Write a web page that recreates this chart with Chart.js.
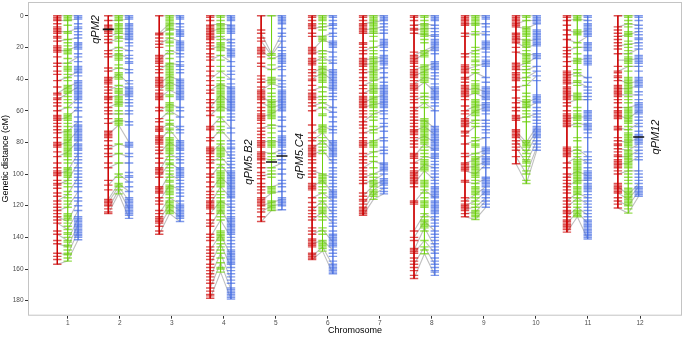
<!DOCTYPE html>
<html>
<head>
<meta charset="utf-8">
<script src="https://cdn.jsdelivr.net/npm/chart.js@4.4.1/dist/chart.umd.min.js"></script>
<style>
  html, body { margin: 0; padding: 0; background: #fff; }
</style>
</head>
<body>
<canvas id="mapChart" width="685" height="337"></canvas>
<script>
// chromosomes and y ticks
const chromosomes = ["1", "2", "3", "4", "5", "6", "7", "8", "9", "10", "11", "12"];
const distanceTicks = [0, 20, 40, 60, 80, 100, 120, 140, 160, 180];

// marker positions (cM) per chromosome, red map
const mapA = [
  [0,1,2,3,5,7,8,9,10,11,13,14,16,19,20,21,22,23,26,30,32,35,37,41,45,49,50,52,53,55,57,60,63,64,65,66,68,70,72,74,77,80,81,82,83,86,89,93,96,98,99,100,101,104,106,107,109,112,114,117,119,121,123,125,127,129,131,136,138,142,144,150,152,154,157],
  [0,3,6,7,8,9,10,11,13,15,17,22,24,26,33,35,39,40,41,42,43,45,47,49,51,52,53,55,58,60,62,65,68,73,74,75,76,77,79,82,84,87,89,93,96,104,107,110,116,117,118,119,120,122,124,125],
  [0,11,12,14,16,18,20,25,26,27,28,29,30,32,34,36,39,40,41,42,43,44,45,47,49,50,51,52,53,58,60,65,67,70,71,72,73,76,77,78,79,80,81,83,85,87,90,93,96,97,98,99,100,102,108,109,110,111,112,115,117,119,123,125,127,128,129,130,131,133,136,138],
  [0,1,3,6,7,8,9,10,11,12,13,14,15,17,19,21,24,26,28,32,35,38,41,44,47,49,53,55,58,60,63,70,71,72,77,79,83,84,85,86,87,89,91,93,96,100,102,105,108,111,113,115,117,118,119,120,121,122,125,129,131,133,138,140,142,146,148,150,152,154,157,159,161,163,165,167,169,172,174,176,177,178.5],
  [0,9,11,14,16,20,21,22,23,24,26,30,32,38,40,42,45,47,48,49,50,51,52,53,55,58,60,62,63,64,65,66,68,71,73,75,77,79,80,81,82,83,86,87,88,89,90,91,93,96,99,101,103,106,108,110,112,115,116,117,118,119,120,122,124,127,130],
  [0,1,3,5,6,7,8,11,13,20,21,22,23,24,27,28,29,30,31,34,36,38,40,41,44,47,49,50,51,52,53,55,57,60,69,74,77,79,82,83,84,85,86,87,88,89,91,93,96,98,100,102,106,107,108,109,110,115,118,121,123,125,127,129,134,136,138,141,142,143,144,145,146,150,151,152,153,154],
  [0,1,3,5,6,7,8,9,10,11,17,18,20,22,24,27,28,29,30,31,32,34,36,39,41,44,46,49,51,52,53,54,55,56,57,58,60,62,64,67,69,71,74,77,79,80,81,82,83,87,89,91,93,96,98,100,102,104,106,112,114,116,117,119,121,122,123,124,125,126],
  [0,1,3,6,8,9,11,23,25,26,27,28,29,30,32,34,35,36,37,38,39,41,43,44,45,46,47,49,51,53,55,58,60,62,64,66,68,70,72,73,74,75,77,79,81,83,87,88,89,90,93,96,98,99,100,101,102,103,104,105,106,108,117,118,119,136,140,142,147,148,149,150,153,155,157,159,161,164,166],
  [0,1,2,3,4,5,6,11,13,24,26,31,32,33,34,35,36,39,40,42,44,45,46,47,48,49,50,51,53,57,60,62,65,66,67,68,69,70,73,74,76,81,87,89,93,94,95,96,97,98,104,105,115,117,119,120,121,122,123,125,127],
  [0,1,2,3,4,5,6,7,11,12,13,14,15,16,17,20,23,30,31,32,33,34,36,37,38,39,40,41,45,47,52,55,58,60,63,64,65,66,72,73,74,75,76,77,79,81,83,85,89,93.5],
  [0,1,3,6,9,12,15,20,22,24,26,29,32,35,36,37,38,39,40,41,42,43,45,46,47,48,49,50,51,52,53,55,57,60,62,63,64,65,66,67,68,69,70,83,84,85,86,87,88,89,93,96,100,102,104,106,108,110,112,115,117,119,121,123,124,125,127,129,130,131,132,133,134,135,136.7],
  [0,7,9,11,13,15,17,19,21,24,32,35,36,38,39,41,44,45,46,47,48,49,50,51,53,55,58,60,61,62,63,64,65,70,71,72,77,79,81,82,84,86,88,89,91,92,93,94,95,96,98,100,106,107,108,109,110,111,112,115,117,119,121.5]
];

// green map
const mapB = [
  [0,1,2,3,6,10,11,15,17,19,21,22,23,24,27,30,32,33,34,35,37,39,41,44,45,46,47,48,49,51,53,55,58,62,63,64,65,66,68,70,72,73,74,75,76,77,78,79,80,81,82,83,84,85,86,87,88,89,91,93,96,97,98,99,100,101,102,104,106,108,111,113,115,117,119,121,125,126,127,128,129,131,133,135,137,138,140,142,143,145,146,148,150,151,153,155],
  [0,1,2,3,5,6,7,8,9,10,11,13,14,16,20,22,24,25,26,27,28,31,33,36,37,38,39,40,44,46,47,48,49,51,52,53,54,55,56,57,60,62,65,66,67,68,69,81,87,93,100,102,106,107,108,110,112.5],
  [0,1,2,3,4,5,6,7,8,9,11,12,14,16,17,19,22,24,27,30,31,32,33,34,35,36,37,38,39,40,41,42,43,44,45,46,47,50,51,55,56,57,58,59,60,62,66,68,69,71,72,74,77,78,79,80,81,82,83,84,85,86,87,89,91,93,94,96,98,100,102,104,105,107,108,109,110,111,112,113,115,117,118,119,120,121,122,123,124,125],
  [0,1,3,5,6,7,8,9,10,11,13,15,17,18,19,20,21,22,25,28,32,35,39,41,43,44,45,46,47,48,49,50,51,52,53,54,55,56,57,58,59,60,64,67,70,72,74,79,81,83,84,85,86,87,88,89,91,94,96,98,99,100,101,102,103,104,105,106,107,108,111,113,115,117,118,119,120,121,122,123,124,125,127,129,136,137,138,139,140,141,142,144,146,148,150,153,156,159,160,162],
  [0,24,25,27,31,34,39,40,41,42,43,46,49,51,53,54,55,56,57,58,59,60,61,62,63,64,65,69,71,74,77,79,80,81,82,83,87,89,91,96,98,100,102,108,109,110,111,112,117,118,119,120,121,122,123],
  [0,1,2,3,5,7,9,13,14,15,16,22,24,26,28,30,32,33,34,35,36,37,38,39,40,41,42,45,48,51,53,55,58,62,63,69,70,71,72,73,74,77,79,81,83,85,87,100,101,102,103,104,105,106,108,110,112,115,117,119,121,122,123,124,125,127,129,134,136,138,142,143,144,145,146,147,148.7],
  [0,1,2,3,4,5,6,7,8,9,10,11,13,16,20,22,24,26,27,28,29,30,31,32,33,34,35,36,37,38,39,40,41,43,44,45,46,47,48,49,51,52,53,54,55,56,57,58,60,62,64,66,70,72,74,79,80,81,82,83,86,89,92,96,100,102,104,105,106,107,108,110,111,112,113,114,116],
  [0,1,3,5,6,7,8,9,10,11,12,13,15,17,22,23,24,25,26,31,32,33,34,35,36,37,38,39,40,41,42,49,51,53,55,58,65,66,67,68,69,70,71,72,73,74,75,76,77,78,79,80,81,83,85,87,89,91,92,93,94,95,96,97,98,104,105,106,107,108,110,112,115,117,118,119,120,121,125,127,129,130,131,132,133,134,136,142,146,148,150.4],
  [0,1,2,3,4,5,6,10,12,20,22,24,26,28,29,31,34,36,41,43,44,45,46,47,48,49,53,54,55,56,57,58,59,60,61,62,63,66,68,70,77,79,81,82,83,87,89,90,91,92,93,94,95,96,97,98,99,100,101,102,104,106,108,109,110,111,112,113,115,117,119,121,123,124,125,126,127,128.7],
  [0,1,3,7,8,9,10,11,12,13,15,16,17,18,19,20,22,24,25,26,27,28,29,30,32,34,36,39,41,44,49,51,53,54,55,56,57,58,60,62,64,67,79,80,81,82,83,85,87,89,91,92,93,95,98,100,104,106],
  [0,1,2,3,9,10,11,12,17,20,24,27,28,29,30,34,36,38,41,42,44,49,50,51,52,53,58,60,62,63,64,65,66,68,70,77,79,83,85,87,89,91,92,93,94,95,96,97,98,99,100,101,102,103,104,105,106,108,109,110,111,112,113,115,117,119,121,123,124,125,126,127],
  [0,1,3,5,7,10,11,12,13,16,18,20,22,24,26,27,28,29,30,32,35,39,40,41,42,43,44,45,46,47,48,49,51,53,55,58,59,60,61,62,63,64,65,66,67,68,70,72,74,75,76,77,78,79,80,81,82,83,85,86,87,88,89,90,91,92,93,94,95,96,98,100,102,104,106,109,110,111,112,113,114,115,116,117,118,119,120,122,124.7]
];

// blue map
const mapC = [
  [0,1,2,5,7,8,10,12,14,17,18,19,20,21,24,26,29,32,33,34,35,36,38,41,42,43,44,45,46,47,48,49,50,51,52,53,55,58,60,64,67,69,70,71,72,73,74,75,76,77,78,79,81,82,83,84,85,87,89,91,93,96,98,100,102,104,106,108,111,115,117,120,123,127,128,129,130,131,132,133,134,135,136,137,138,139,140,141.5],
  [0,1,2,5,6,7,8,9,10,11,12,13,14,15,17,19,22,25,27,29,30,34,36,41,43,45,46,47,48,49,50,51,53,55,57,60,62,67,69,80,81,82,83,87,89,93,99,101,102,105,108,111,115,116,117,118,119,120,121,122,123,124,125,126,128],
  [0,1,2,5,7,9,10,11,12,13,16,17,18,19,20,21,22,24,26,29,31,32,34,36,40,41,42,43,44,45,46,47,48,49,50,51,52,53,58,60,64,70,72,74,79,80,81,82,83,84,85,87,89,91,93,96,97,98,99,100,101,102,104,106,108,110,112,114,117,119,120,121,122,123,124,125,126,127,128,130],
  [0,1,2,3,6,7,8,9,10,11,15,17,19,21,22,23,24,25,26,29,32,35,37,40,43,45,46,47,48,49,50,51,52,53,54,55,56,57,58,59,60,62,64,66,71,74,79,81,83,84,86,88,90,92,94,96,98,99,100,101,102,103,104,105,106,107,108,109,110,111,112,113,114,115,117,119,121,123,125,127,128,129,130,131,132,133,134,135,136,137,138,140,142,144,146,148,149,150,151,152,153,154,155,156,157,159,161,163,165,167,169,172,173,174,175,176,177,178,179],
  [0,1,2,3,4,5,8,11,13,16,20,22,24,25,26,27,28,29,30,32,34,38,41,43,45,47,48,49,50,51,52,53,54,55,56,57,58,59,60,64,66,70,73,76,77,78,79,80,81,82,83,85,87,91,93,97,100,104,106,108,111,115,116,117,118,119,120,122.6],
  [0,1,3,5,6,8,11,13,16,17,18,19,20,23,26,28,30,34,35,36,37,38,39,40,41,42,43,44,45,46,47,49,51,53,58,61,64,67,70,72,74,79,80,81,82,83,84,85,86,87,88,89,91,93,96,98,100,102,104,106,108,110,111,112,113,114,115,117,119,121,123,125,127,129,131,133,136,138,139,140,141,142,143,144,145,146,148,150,152,155,157,158,159,160,161,162,163],
  [0,1,2,3,5,7,9,11,15,16,17,18,19,20,22,25,26,27,28,29,30,31,33,36,39,42,44,45,46,47,48,49,50,51,52,53,54,55,56,57,58,60,62,65,68,70,73,77,79,83,85,87,93,94,95,96,97,98,100,103,104,105,106,107,109,111,112.5],
  [0,1,2,3,6,8,10,12,13,15,16,17,18,19,20,21,22,24,29,30,31,32,33,34,36,38,40,43,45,46,47,48,49,50,51,52,53,55,57,60,70,71,72,73,74,75,76,77,78,79,80,81,82,83,84,85,87,88,89,90,92,94,96,98,100,102,104,106,108,109,110,111,112,113,114,115,117,118,119,120,121,122,123,124,125,127,129,131,133,136,138,140,142,144,146,148,150,153,155,157,159,161,162,164],
  [0,1,2,5,7,10,12,16,17,18,19,20,21,23,26,28,29,30,31,32,39,42,45,46,47,48,49,50,51,52,53,55,56,57,58,59,60,62,66,68,70,72,74,77,83,84,85,86,87,89,90,91,92,93,94,96,102,103,104,105,106,107,108,110,111,112,113,115,117,119,121],
  [0,1,2,3,4,5,9,10,11,12,13,14,15,16,17,18,19,24,25,26,27,32,35,38,41,50,51,52,53,54,55,58,60,62,64,66,68,70,71,72,73,74,75,76,77,79,81,83,85],
  [0,1,3,5,6,7,8,9,10,11,12,13,17,18,19,20,21,22,25,26,27,28,29,30,31,39,42,45,47,49,51,53,60,61,62,63,64,65,66,68,69,70,71,72,74,77,86,89,91,93,96,98,99,100,101,102,103,104,106,107,108,109,110,111,113,115,117,119,121,123,125,127,129,130,131,132,133,134,135,136,137,138,139,140,141],
  [0,1,3,6,8,10,12,14,15,17,19,21,25,26,27,28,29,30,32,35,39,40,41,42,43,44,45,48,50,53,55,56,57,58,59,60,61,62,64,66,68,70,73,75,76,77,78,79,80,81,83,85,87,89,91,98,100,102,104,106,108,109,110,111,112,113,114]
];

// shared markers [red, green, blue] used for the grey links
const sharedMarkers = [
  [[0,0,0],[3,3,2],[10,10,8],[16,15,14],[22,22,19],[30,30,26],[41,39,35],[49,45,42],[53,49,45],[60,58,52],[66,64,58],[74,73,67],[82,80,72],[89,86,79],[100,98,87],[107,104,93],[117,113,102],[123,121,111],[127,130,117],[131,135,123],[138,142,128],[144,146,132],[150,151,136],[157,155,141.5]],
  [[0,0,0],[3,3,2],[9,8,8],[13,11,12],[17,14,15],[22,20,22],[26,24,27],[35,33,34],[41,37,43],[47,44,46],[52,50,50],[58,55,55],[62,62,62],[68,66,67],[75,69,80],[84,81,83],[89,87,89],[96,93,93],[107,100,105],[116,106,111],[118,108,117],[122,110,122],[125,112.5,128]],
  [[0,0,0],[11,5,5],[12,8,9],[18,14,16],[28,22,24],[34,30,31],[43,38,41],[47,42,45],[52,47,50],[60,56,58],[66,60,64],[72,68,72],[79,72,80],[87,80,84],[98,87,91],[102,93,97],[111,100,104],[117,107,110],[125,115,119],[129,119,123],[133,122,127],[138,125,130]],
  [[0,0,0],[6,5,6],[10,8,8],[14,13,17],[21,19,22],[28,25,29],[40,35,40],[47,43,46],[58,50,55],[63,57,60],[71,64,71],[79,72,79],[87,81,90],[93,89,96],[102,94,102],[111,102,108],[119,108,115],[125,117,121],[133,122,133],[140,129,140],[148,138,152],[157,144,159],[165,150,167],[172,156,173],[178.5,162,179]],
  [[0,0,0],[11,24,11],[16,25,16],[22,27,25],[32,34,32],[42,40,40],[47,43,45],[51,55,53],[55,58,56],[64,62,58],[71,69,70],[80,79,80],[86,87,85],[90,91,91],[96,96,93],[101,100,100],[108,108,106],[117,112,111],[120,118,116],[124,120,119],[130,123,122.6]],
  [[0,0,0],[8,7,6],[13,13,11],[22,15,18],[24,22,23],[30,26,30],[36,33,36],[40,36,41],[47,45,46],[52,51,51],[57,55,58],[60,58,61],[74,70,72],[79,74,82],[84,79,86],[88,85,93],[98,100,102],[108,104,112],[115,112,117],[123,117,125],[129,124,131],[138,135,143],[144,142,148],[152,146,158],[154,148.7,163]],
  [[0,0,0],[5,4,3],[9,8,7],[11,11,11],[22,20,18],[28,27,26],[31,30,28],[36,35,33],[44,41,39],[49,46,46],[55,52,50],[58,56,55],[67,62,60],[74,72,70],[82,79,77],[89,86,85],[96,92,94],[102,100,97],[106,104,100],[114,107,104],[119,110,106],[123,113,109],[126,116,112.5]],
  [[0,0,0],[6,5,6],[9,8,8],[11,12,13],[25,22,19],[28,24,20],[34,32,30],[38,35,32],[43,39,40],[47,42,48],[53,51,52],[60,55,60],[66,66,71],[73,70,75],[79,76,80],[89,81,85],[93,89,90],[101,94,96],[106,98,104],[118,110,115],[136,125,129],[140,130,136],[148,134,146],[150,142,150],[157,146,157],[166,150.4,164]],
  [[0,0,0],[5,5,5],[12,11,11],[25,22,20],[34,32,30],[40,36,39],[47,46,48],[51,49,52],[60,57,56],[65,60,58],[69,66,66],[75,70,70],[81,79,77],[89,87,85],[93,91,87],[96,95,92],[98,100,94],[105,106,103],[117,113,108],[120,117,111],[122,121,115],[125,124,117],[127,128.7,121]],
  [[0,0,0],[5,3,3],[7,8,5],[14,16,15],[17,20,18],[23,25,24],[32,30,26],[34,34,32],[40,39,35],[45,44,38],[53,55,52],[58,58,55],[65,64,62],[73,80,70],[75,82,73],[79,87,75],[83,93,79],[89,100,83],[93.5,106,85]],
  [[0,0,0],[3,2,3],[9,11,9],[15,17,13],[22,20,20],[29,28,27],[38,36,40],[43,42,45],[50,51,51],[55,53,53],[65,64,64],[70,68,69],[87,84,89],[93,89,93],[102,98,101],[108,104,104],[117,112,115],[121,115,119],[127,121,126],[131,124,131],[136.7,127,141]],
  [[0,0,0],[7,5,6],[13,12,10],[19,18,17],[24,24,21],[28,28,27],[35,32,32],[40,43,41],[46,46,44],[50,50,50],[58,58,56],[63,65,60],[71,72,68],[79,80,77],[84,85,81],[89,89,85],[94,93,89],[100,98,98],[108,113,106],[112,116,108],[117,120,111],[121.5,124.7,114]]
];

// QTLs: name, chromosome, map (0 red, 1 green, 2 blue), position cM
const qtlNames = ["qPM2", "qPM5.B2", "qPM5.C4", "qPM12"];
const qtlChrom = [2, 5, 5, 12];
const qtlMap = [0, 1, 2, 2];
const qtlPos = [8.6, 92.4, 88.6, 76.6];

const colors = ["204,0,0", "102,205,0", "65,105,225"];
const labelSide = [-1, -1, 1, 1];
const FONT = '"Liberation Sans", Arial, Helvetica, sans-serif';

// x position of map m (0,1,2) of chromosome index i
function mapX(i, m) {
  return 1 + i * 0.9795 + (m - 1) * 0.2;
}

function markerPoints(maps, m) {
  const pts = [];
  maps.forEach((list, i) => list.forEach((v) => pts.push({ x: mapX(i, m), y: v })));
  return pts;
}

function backbonePoints(maps, m) {
  const pts = [];
  maps.forEach((list, i) => {
    pts.push({ x: mapX(i, m), y: Math.min(...list) });
    pts.push({ x: mapX(i, m), y: Math.max(...list) });
    pts.push({ x: mapX(i, m), y: null });
  });
  return pts;
}

const linkPoints = [];
sharedMarkers.forEach((rows, i) => {
  rows.forEach((r) => {
    linkPoints.push({ x: mapX(i, 0), y: r[0] }, { x: mapX(i, 1), y: r[1] }, { x: mapX(i, 1), y: null });
    linkPoints.push({ x: mapX(i, 1), y: r[1] }, { x: mapX(i, 2), y: r[2] }, { x: mapX(i, 2), y: null });
  });
});

const qtlPoints = qtlNames.map((n, k) => ({ x: mapX(qtlChrom[k] - 1, qtlMap[k]), y: qtlPos[k] }));

const allMaps = [mapA, mapB, mapC];

const datasets = [
  {
    label: "links",
    data: linkPoints,
    showLine: true,
    spanGaps: false,
    borderColor: "rgba(175,175,175,0.8)",
    borderWidth: 1.1,
    pointRadius: 0,
    order: 5
  }
];
allMaps.forEach((maps, m) => {
  datasets.push({
    label: "backbone" + m,
    data: backbonePoints(maps, m),
    showLine: true,
    spanGaps: false,
    borderColor: "rgba(" + colors[m] + "," + (m === 0 ? 0.95 : 0.6) + ")",
    borderWidth: 1,
    pointRadius: 0,
    order: 4
  });
  datasets.push({
    label: "markers" + m,
    data: markerPoints(maps, m),
    showLine: false,
    pointStyle: "line",
    pointRadius: 4.2,
    pointHoverRadius: 4.2,
    pointBorderWidth: 1.4,
    pointBorderColor: "rgba(" + colors[m] + ",0.68)",
    pointBackgroundColor: "rgba(" + colors[m] + ",0.68)",
    order: 3
  });
});
datasets.push({
  label: "qtl",
  data: qtlPoints,
  showLine: false,
  pointStyle: "line",
  pointRadius: 5.5,
  pointBorderWidth: 1.6,
  pointBorderColor: "#111",
  order: 1
});

const frameAndText = {
  id: "frameAndText",
  beforeDatasetsDraw(chart) {
    const { ctx, chartArea: a } = chart;
    ctx.save();
    ctx.strokeStyle = "#c4c4c4";
    ctx.lineWidth = 1;
    ctx.strokeRect(a.left + 0.5, a.top + 0.5, a.right - a.left - 1, a.bottom - a.top - 1);
    ctx.restore();
  },
  afterDatasetsDraw(chart) {
    const { ctx, chartArea: a, scales } = chart;
    ctx.save();
    ctx.fillStyle = "#111";
    ctx.textAlign = "center";
    ctx.textBaseline = "middle";
    ctx.font = "italic 11px " + FONT;
    qtlNames.forEach((name, k) => {
      const i = qtlChrom[k] - 1;
      const px = labelSide[k] < 0
        ? scales.x.getPixelForValue(mapX(i, 0)) - 12.5
        : scales.x.getPixelForValue(mapX(i, 2)) + 17.5;
      const py = scales.y.getPixelForValue(qtlPos[k]);
      ctx.save();
      ctx.translate(px, py);
      ctx.rotate(-Math.PI / 2);
      ctx.fillText(name, 0, 0);
      ctx.restore();
    });
    // axis titles
    ctx.font = "9px " + FONT;
    ctx.fillStyle = "#000";
    ctx.fillText("Chromosome", (a.left + a.right) / 2, 331);
    ctx.save();
    ctx.translate(6, (a.top + a.bottom) / 2);
    ctx.rotate(-Math.PI / 2);
    ctx.fillText("Genetic distance (cM)", 0, 0);
    ctx.restore();
    ctx.restore();
  }
};

new Chart(document.getElementById("mapChart"), {
  type: "scatter",
  data: { datasets },
  options: {
    responsive: false,
    animation: false,
    devicePixelRatio: 1,
    layout: { autoPadding: false, padding: { top: 2, right: 3, left: 0, bottom: 0 } },
    plugins: { legend: { display: false }, tooltip: { enabled: false } },
    scales: {
      x: {
        type: "linear",
        min: 0.237,
        max: 12.807,
        afterBuildTicks: (s) => { s.ticks = chromosomes.map((c, i) => ({ value: i + 1 })); },
        afterFit: (s) => { s.height = 21.3; s.paddingLeft = 0; s.paddingRight = 0; },
        ticks: {
          color: "#4d4d4d",
          font: { size: 6.5, family: FONT },
          padding: 1,
          maxRotation: 0,
          callback: (v, i) => chromosomes[i]
        },
        grid: { drawOnChartArea: false, drawTicks: true, tickLength: 3, color: "#333" },
        border: { display: false }
      },
      y: {
        type: "linear",
        reverse: true,
        min: -8.7,
        max: 189.5,
        afterBuildTicks: (s) => { s.ticks = distanceTicks.map((v) => ({ value: v })); },
        afterFit: (s) => { s.width = 28; s.paddingTop = 0; s.paddingBottom = 0; },
        ticks: {
          color: "#4d4d4d",
          font: { size: 6.5, family: FONT },
          padding: 1.5,
          callback: (v) => String(v)
        },
        grid: { drawOnChartArea: false, drawTicks: true, tickLength: 3, color: "#333" },
        border: { display: false }
      }
    }
  },
  plugins: [frameAndText]
});
</script>
</body>
</html>
